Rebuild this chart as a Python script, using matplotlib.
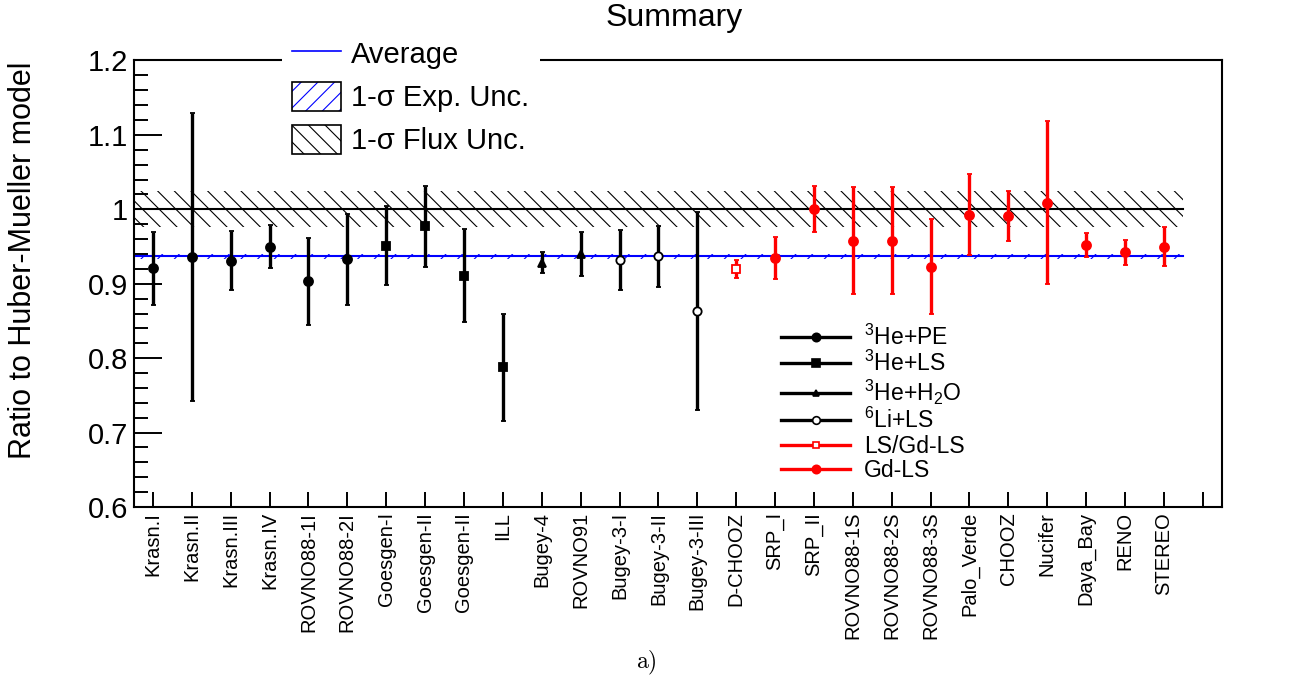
import numpy as np
import matplotlib
matplotlib.use("Agg")
import matplotlib.pyplot as plt
from matplotlib.lines import Line2D
from matplotlib.patches import Patch
from matplotlib.ticker import MultipleLocator, FormatStrFormatter

# experiments, ratio to Huber-Mueller prediction and total error
names = ["Krasn.I", "Krasn.II", "Krasn.III", "Krasn.IV", "ROVNO88-1I", "ROVNO88-2I",
         "Goesgen-I", "Goesgen-II", "Goesgen-II", "ILL", "Bugey-4", "ROVNO91",
         "Bugey-3-I", "Bugey-3-II", "Bugey-3-III", "D-CHOOZ", "SRP_I", "SRP_II",
         "ROVNO88-1S", "ROVNO88-2S", "ROVNO88-3S", "Palo_Verde", "CHOOZ", "Nucifer",
         "Daya_Bay", "RENO", "STEREO"]
ratio = np.array([0.921, 0.936, 0.931, 0.950, 0.903, 0.933, 0.951, 0.977, 0.911, 0.788,
                  0.928, 0.940, 0.932, 0.937, 0.863, 0.920, 0.935, 1.000, 0.958, 0.958,
                  0.923, 0.993, 0.991, 1.009, 0.952, 0.942, 0.950])
err = np.array([0.049, 0.193, 0.040, 0.029, 0.059, 0.061, 0.053, 0.054, 0.062, 0.072,
                0.014, 0.029, 0.040, 0.041, 0.133, 0.012, 0.028, 0.031, 0.072, 0.072,
                0.064, 0.055, 0.033, 0.110, 0.016, 0.017, 0.026])
detector = (["3He+PE"] * 6 + ["3He+LS"] * 4 + ["3He+H2O"] * 2 + ["6Li+LS"] * 3
            + ["LS/Gd-LS"] + ["Gd-LS"] * 11)

avg = 0.937
avg_err = 0.0035
flux = 1.0
flux_err = 0.024

# marker, colour, face, size, legend label
styles = {
    "3He+PE":   ("o", "black", "black", 6.5, r"$^{\mathregular{3}}$He+PE"),
    "3He+LS":   ("s", "black", "black", 6.0, r"$^{\mathregular{3}}$He+LS"),
    "3He+H2O":  ("^", "black", "black", 5.5, r"$^{\mathregular{3}}$He+H$_{\mathregular{2}}$O"),
    "6Li+LS":   ("o", "black", "white", 6.0, r"$^{\mathregular{6}}$Li+LS"),
    "LS/Gd-LS": ("s", "red", "white", 5.5, "LS/Gd-LS"),
    "Gd-LS":    ("o", "red", "red", 6.5, "Gd-LS"),
}

plt.rcParams["font.family"] = ["Liberation Sans", "DejaVu Sans"]
plt.rcParams["hatch.linewidth"] = 0.8

fig = plt.figure(figsize=(12.89, 6.87), dpi=100)
ax = fig.add_axes([0.1036, 0.262, 0.8445, 0.650])

x = np.arange(len(names))
band_x = [x[0] - 0.5, x[-1] + 0.5]

# flux and experimental uncertainty bands
ax.fill_between(band_x, flux - flux_err, flux + flux_err, facecolor="none",
                edgecolor="black", hatch="\\\\", lw=0, zorder=1)
ax.plot(band_x, [flux, flux], color="black", lw=1.5, zorder=2)
ax.fill_between(band_x, avg - avg_err, avg + avg_err, facecolor="none",
                edgecolor="blue", hatch="//", lw=0, zorder=1)
ax.plot(band_x, [avg, avg], color="blue", lw=1.5, zorder=2)

det = np.array(detector)
handles = []
labels = []
for key, (m, c, face, ms, lab) in styles.items():
    sel = det == key
    ax.errorbar(x[sel], ratio[sel], yerr=err[sel], fmt=m, color=c, mfc=face, mec=c,
                ms=ms, mew=1.3, elinewidth=2.4, capsize=1.8, capthick=2.4, zorder=4)
    handles.append(Line2D([], [], color=c, lw=2.4, marker=m, ms=ms - 0.5, mfc=face,
                          mec=c, mew=1.2))
    labels.append(lab)

ax.set_xlim(-0.5, len(names) + 0.5)
ax.set_ylim(0.6, 1.2)
ax.set_xticks(np.arange(len(names) + 1))
ax.set_xticklabels(names + [""], rotation=90)
ax.yaxis.set_major_locator(MultipleLocator(0.1))
ax.yaxis.set_minor_locator(MultipleLocator(0.02))
ax.yaxis.set_major_formatter(FormatStrFormatter("%g"))
ax.tick_params(axis="x", direction="in", length=11, width=1.4, labelsize=14.5, pad=3.5,
               top=False)
ax.tick_params(axis="y", which="major", direction="in", length=20, width=1.4,
               labelsize=21, pad=4, right=False)
ax.tick_params(axis="y", which="minor", direction="in", length=10, width=1.4,
               right=False)
for s in ax.spines.values():
    s.set_linewidth(1.5)

# top legend (overlaps the frame like ROOT does)
h_avg = Line2D([], [], color="blue", lw=1.2)
h_exp = (Patch(facecolor="white", edgecolor="blue", hatch="//", lw=0),
         Patch(facecolor="none", edgecolor="black", lw=1.2))
h_flux = (Patch(facecolor="white", edgecolor="black", hatch="\\\\", lw=0),
          Patch(facecolor="none", edgecolor="black", lw=1.2))
leg1 = ax.legend([h_avg, h_exp, h_flux], ["Average", "1-σ Exp. Unc.", "1-σ Flux Unc."],
                 loc="upper left", bbox_to_anchor=(0.1364, 1.072),
                 bbox_transform=ax.transAxes, fontsize=21, frameon=True, fancybox=False,
                 framealpha=1, borderpad=0.35, borderaxespad=0, handlelength=1.68,
                 handleheight=1.2, handletextpad=0.35, labelspacing=0.42)
leg1.get_frame().set_edgecolor("none")
leg1.get_frame().set_facecolor("white")
ax.add_artist(leg1)

ax.legend(handles, labels, loc="upper left", bbox_to_anchor=(0.595, 0.409),
          bbox_transform=ax.transAxes, frameon=False, fontsize=16.5, borderpad=0,
          borderaxespad=0, handlelength=3.0, handletextpad=0.6, labelspacing=0.06)

fig.text(674 / 1289, 1 - 18 / 687, "Summary", ha="center", va="center", fontsize=23)
fig.text(23 / 1289, 1 - 260 / 687, "Ratio to Huber-Mueller model", rotation=90,
         ha="center", va="center", fontsize=22)
fig.text(646 / 1289, 1 - 663 / 687, r"$\mathrm{a)}$", math_fontfamily="cm",
         ha="center", va="center", fontsize=17)

fig.savefig("out.png", dpi=100)
